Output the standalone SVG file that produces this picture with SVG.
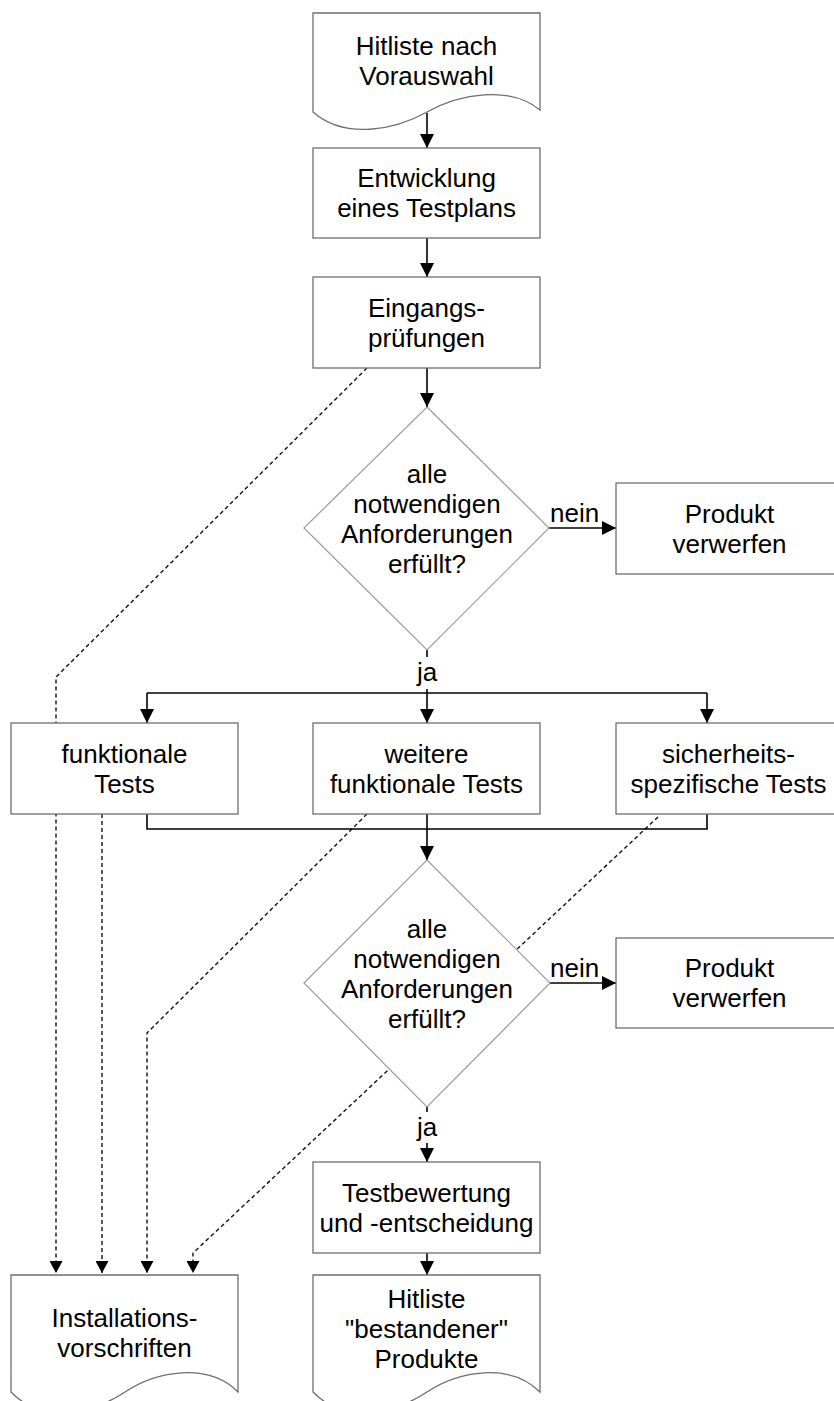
<svg xmlns="http://www.w3.org/2000/svg" width="834" height="1401" viewBox="0 0 834 1401">
<defs>
<style>
.box{fill:#fff;stroke:#6e6e6e;stroke-width:1.3}
.dia{fill:#fff;stroke:#9a9a9a;stroke-width:1.2}
.t{font-family:"Liberation Sans",Arial,sans-serif;font-size:26px;fill:#000;text-anchor:middle}
.lbl{font-family:"Liberation Sans",Arial,sans-serif;font-size:26px;fill:#000}
.c{fill:none;stroke:#000;stroke-width:1.6}
.d{fill:none;stroke:#111;stroke-width:1.4;stroke-dasharray:4 3}
</style>
<marker id="arr" markerUnits="userSpaceOnUse" markerWidth="14" markerHeight="14" refX="14" refY="7" orient="auto">
<path d="M0,0 L14,7 L0,14 Z" fill="#000"/>
</marker>
<marker id="arrd" markerUnits="userSpaceOnUse" markerWidth="12" markerHeight="13" refX="12" refY="6.5" orient="auto">
<path d="M0,0 L12,6.5 L0,13 Z" fill="#000"/>
</marker>
</defs>
<rect width="834" height="1401" fill="#fff"/>

<g id="connectors">
<path class="d" d="M367,368 L56,677 V1273" marker-end="url(#arrd)"/>
<path class="d" d="M102,814 V1273" marker-end="url(#arrd)"/>
<path class="d" d="M367,814 L147,1033 V1273" marker-end="url(#arrd)"/>
<path class="d" d="M658,817 L193,1253 V1273" marker-end="url(#arrd)"/>
<path class="c" d="M427,113 V148" marker-end="url(#arr)"/>
<path class="c" d="M427,238 V277" marker-end="url(#arr)"/>
<path class="c" d="M427,368 V407" marker-end="url(#arr)"/>
<path class="c" d="M549,528 H616" marker-end="url(#arr)"/>
<path class="c" d="M427,650 V693"/>
<path class="c" d="M147,693 H707"/>
<path class="c" d="M147,693 V723" marker-end="url(#arr)"/>
<path class="c" d="M427,693 V723" marker-end="url(#arr)"/>
<path class="c" d="M707,693 V723" marker-end="url(#arr)"/>
<path class="c" d="M147,814 V829 H707 V814"/>
<path class="c" d="M427,814 V860" marker-end="url(#arr)"/>
<path class="c" d="M550,983 H616" marker-end="url(#arr)"/>
<path class="c" d="M427,1107 V1162" marker-end="url(#arr)"/>
<path class="c" d="M427,1253 V1275" marker-end="url(#arr)"/>
</g>

<g id="n_hitliste_vorauswahl">
<path class="box" d="M313,112 C345,140 395,130 427,112 S510,85 540,110 V13 H313 Z"/>
<text class="t" x="426.5" y="55">Hitliste nach</text>
<text class="t" x="426.5" y="85">Vorauswahl</text>
</g>

<g id="n_testplan">
<rect class="box" x="313" y="148" width="227" height="90"/>
<text class="t" x="426.5" y="187">Entwicklung</text>
<text class="t" x="426.5" y="217">eines Testplans</text>
</g>

<g id="n_eingang">
<rect class="box" x="313" y="277" width="227" height="91"/>
<text class="t" x="426.5" y="317">Eingangs-</text>
<text class="t" x="426.5" y="347">prüfungen</text>
</g>

<g id="n_decision1">
<polygon class="dia" points="427,407 549,528 427,650 304,528"/>
<text class="t" x="427" y="483">alle</text>
<text class="t" x="427" y="513">notwendigen</text>
<text class="t" x="427" y="543">Anforderungen</text>
<text class="t" x="427" y="573">erfüllt?</text>
</g>

<g id="n_verwerfen1">
<rect class="box" x="616" y="483" width="227" height="91"/>
<text class="t" x="729.5" y="523">Produkt</text>
<text class="t" x="729.5" y="553">verwerfen</text>
</g>

<g id="n_funktional">
<rect class="box" x="11" y="723" width="227" height="91"/>
<text class="t" x="124.5" y="763">funktionale</text>
<text class="t" x="124.5" y="793">Tests</text>
</g>

<g id="n_weitere">
<rect class="box" x="313" y="723" width="227" height="91"/>
<text class="t" x="426.5" y="763">weitere</text>
<text class="t" x="426.5" y="793">funktionale Tests</text>
</g>

<g id="n_sicherheit">
<rect class="box" x="616" y="723" width="227" height="91"/>
<text class="t" x="728.5" y="763">sicherheits-</text>
<text class="t" x="728.5" y="793">spezifische Tests</text>
</g>

<g id="n_decision2">
<polygon class="dia" points="427,860 550,983 427,1107 304,983"/>
<text class="t" x="427" y="938">alle</text>
<text class="t" x="427" y="968">notwendigen</text>
<text class="t" x="427" y="998">Anforderungen</text>
<text class="t" x="427" y="1028">erfüllt?</text>
</g>

<g id="n_verwerfen2">
<rect class="box" x="616" y="938" width="227" height="90"/>
<text class="t" x="729.5" y="977">Produkt</text>
<text class="t" x="729.5" y="1007">verwerfen</text>
</g>

<g id="n_bewertung">
<rect class="box" x="313" y="1162" width="227" height="91"/>
<text class="t" x="426.5" y="1202">Testbewertung</text>
<text class="t" x="426.5" y="1232">und -entscheidung</text>
</g>

<g id="n_installation">
<path class="box" d="M11,1392 C43,1425 93,1413 125,1392 S208,1362 238,1392 V1275 H11 Z"/>
<text class="t" x="124.5" y="1327">Installations-</text>
<text class="t" x="124.5" y="1357">vorschriften</text>
</g>

<g id="n_hitliste_bestanden">
<path class="box" d="M313,1392 C345,1425 395,1413 427,1392 S510,1362 540,1392 V1275 H313 Z"/>
<text class="t" x="426.5" y="1308">Hitliste</text>
<text class="t" x="426.5" y="1338">"bestandener"</text>
<text class="t" x="426.5" y="1368">Produkte</text>
</g>

<g id="labels">
<text class="lbl" x="550" y="522">nein</text>
<rect x="415" y="657" width="24" height="32" fill="#fff"/>
<text class="t" x="427" y="681">ja</text>
<text class="lbl" x="550" y="977">nein</text>
<rect x="415" y="1112" width="24" height="31" fill="#fff"/>
<text class="t" x="427" y="1136">ja</text>
</g>
</svg>
